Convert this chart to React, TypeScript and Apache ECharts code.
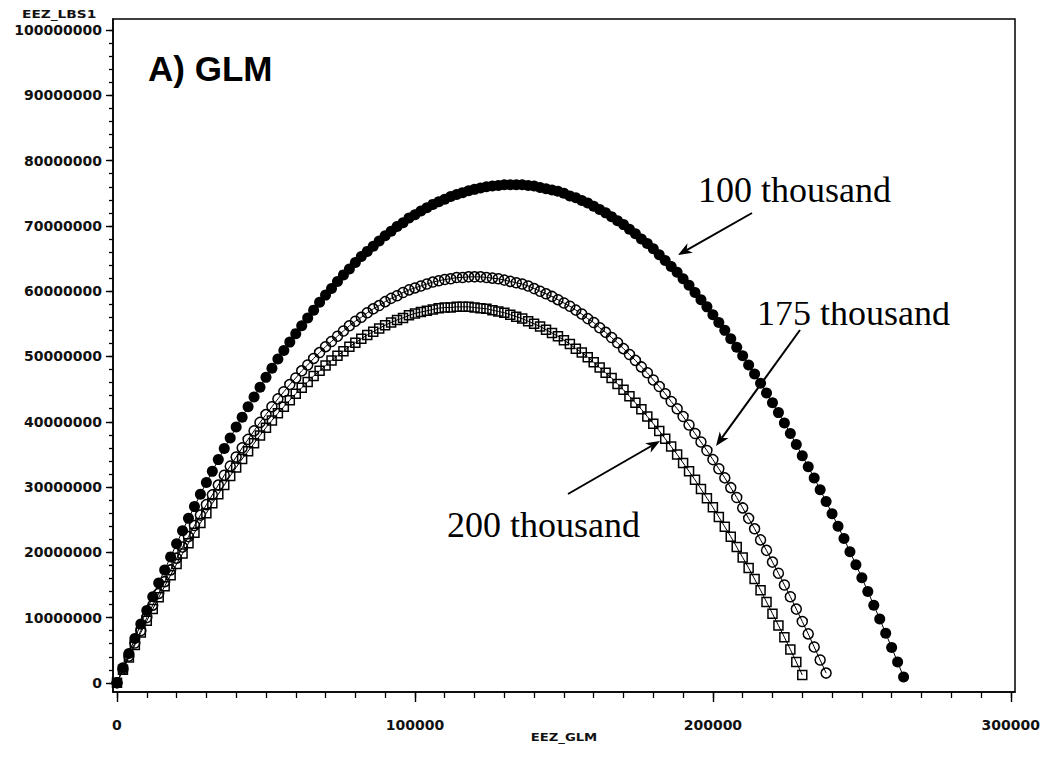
import React, { useEffect, useRef } from "react";
import * as echarts from "echarts";

// Effort (EEZ_GLM), in thousands
const EFFORT_THOUSANDS = [
  0, 2, 4, 6, 8, 10, 12, 14, 16, 18, 20, 22, 24, 26, 28, 30, 32, 34, 36, 38,
  40, 42, 44, 46, 48, 50, 52, 54, 56, 58, 60, 62, 64, 66, 68, 70, 72, 74, 76, 78,
  80, 82, 84, 86, 88, 90, 92, 94, 96, 98, 100, 102, 104, 106, 108, 110, 112, 114, 116, 118,
  120, 122, 124, 126, 128, 130, 132, 134, 136, 138, 140, 142, 144, 146, 148, 150, 152, 154, 156, 158,
  160, 162, 164, 166, 168, 170, 172, 174, 176, 178, 180, 182, 184, 186, 188, 190, 192, 194, 196, 198,
  200, 202, 204, 206, 208, 210, 212, 214, 216, 218, 220, 222, 224, 226, 228, 230, 232, 234, 236, 238,
  240, 242, 244, 246, 248, 250, 252, 254, 256, 258, 260, 262, 264,
];

// EEZ_LBS1, in millions of lbs
const LBS_100K = [
  0.0, 2.3, 4.5, 6.8, 9.0, 11.1, 13.2, 15.3, 17.3, 19.3, 21.3, 23.3, 25.2, 27.0, 28.9, 30.7, 32.4, 34.2, 35.9, 37.5,
  39.2, 40.7, 42.3, 43.8, 45.3, 46.8, 48.2, 49.6, 50.9, 52.2, 53.5, 54.7, 55.9, 57.1, 58.3, 59.4, 60.4, 61.5, 62.5, 63.4,
  64.4, 65.3, 66.1, 66.9, 67.7, 68.5, 69.2, 69.9, 70.5, 71.2, 71.7, 72.3, 72.8, 73.3, 73.7, 74.1, 74.5, 74.8, 75.1, 75.4,
  75.6, 75.8, 76.0, 76.1, 76.2, 76.3, 76.3, 76.3, 76.3, 76.2, 76.1, 75.9, 75.7, 75.5, 75.3, 75.0, 74.6, 74.3, 73.9, 73.5,
  73.0, 72.5, 72.0, 71.4, 70.8, 70.2, 69.5, 68.8, 68.0, 67.3, 66.5, 65.6, 64.7, 63.8, 62.9, 61.9, 60.9, 59.8, 58.7, 57.6,
  56.4, 55.2, 54.0, 52.7, 51.4, 50.1, 48.7, 47.3, 45.9, 44.4, 42.9, 41.4, 39.8, 38.2, 36.5, 34.8, 33.1, 31.4, 29.6, 27.8,
  25.9, 24.0, 22.1, 20.1, 18.1, 16.1, 14.0, 11.9, 9.8, 7.6, 5.4, 3.2, 0.9,
];

const LBS_175K = [
  0.0, 2.1, 4.1, 6.1, 8.0, 10.0, 11.9, 13.7, 15.5, 17.3, 19.1, 20.8, 22.4, 24.1, 25.7, 27.3, 28.8, 30.3, 31.8, 33.2,
  34.6, 36.0, 37.3, 38.6, 39.9, 41.1, 42.3, 43.5, 44.6, 45.7, 46.7, 47.8, 48.7, 49.7, 50.6, 51.5, 52.3, 53.1, 53.9, 54.7,
  55.4, 56.0, 56.7, 57.3, 57.8, 58.4, 58.9, 59.3, 59.8, 60.2, 60.5, 60.8, 61.1, 61.4, 61.6, 61.8, 61.9, 62.1, 62.1, 62.2,
  62.2, 62.2, 62.1, 62.0, 61.9, 61.7, 61.5, 61.3, 61.1, 60.8, 60.4, 60.0, 59.6, 59.2, 58.7, 58.2, 57.7, 57.1, 56.5, 55.8,
  55.2, 54.4, 53.7, 52.9, 52.1, 51.2, 50.3, 49.4, 48.4, 47.5, 46.4, 45.4, 44.3, 43.1, 42.0, 40.8, 39.5, 38.2, 36.9, 35.6,
  34.2, 32.8, 31.4, 29.9, 28.4, 26.8, 25.2, 23.6, 21.9, 20.3, 18.5, 16.8, 15.0, 13.2, 11.3, 9.4, 7.5, 5.5, 3.5, 1.5,
];

const LBS_200K = [
  0.0, 2.0, 3.9, 5.8, 7.7, 9.5, 11.3, 13.1, 14.8, 16.5, 18.2, 19.8, 21.4, 23.0, 24.5, 26.0, 27.5, 28.9, 30.3, 31.7,
  33.0, 34.3, 35.5, 36.7, 37.9, 39.1, 40.2, 41.3, 42.3, 43.3, 44.3, 45.2, 46.1, 47.0, 47.8, 48.6, 49.4, 50.1, 50.8, 51.5,
  52.1, 52.7, 53.3, 53.8, 54.3, 54.8, 55.2, 55.6, 55.9, 56.3, 56.6, 56.8, 57.0, 57.2, 57.4, 57.5, 57.5, 57.6, 57.6, 57.6,
  57.5, 57.4, 57.3, 57.1, 56.9, 56.7, 56.4, 56.1, 55.8, 55.4, 55.0, 54.6, 54.1, 53.6, 53.1, 52.5, 51.9, 51.2, 50.6, 49.9,
  49.1, 48.3, 47.5, 46.7, 45.8, 44.9, 43.9, 42.9, 41.9, 40.8, 39.7, 38.6, 37.4, 36.2, 35.0, 33.7, 32.4, 31.1, 29.7, 28.3,
  26.9, 25.4, 23.9, 22.4, 20.8, 19.2, 17.6, 15.9, 14.2, 12.4, 10.6, 8.8, 7.0, 5.1, 3.2, 1.2,
];

const SERIES_NAMES = ["100 thousand", "175 thousand", "200 thousand"];
const X_TICK_LABELS = [0, 100000, 200000, 300000];
const Y_TICK_LABELS = [
  0, 10000000, 20000000, 30000000, 40000000, 50000000, 60000000, 70000000, 80000000, 90000000, 100000000,
];
const X_NAME = "EEZ_GLM";
const Y_NAME = "EEZ_LBS1";
const PANEL_TITLE = "A) GLM";

const X_MINOR = Array.from({ length: 31 }, (_, i) => i * 10000);
const Y_MINOR = Array.from({ length: 51 }, (_, i) => i * 2000000);

function toPairs(ys: number[]) {
  return ys.map((y, i) => [EFFORT_THOUSANDS[i] * 1000, y * 1000000]);
}

function arrow(x1: number, y1: number, x2: number, y2: number) {
  const dx = x2 - x1;
  const dy = y2 - y1;
  const len = Math.sqrt(dx * dx + dy * dy);
  const ux = dx / len;
  const uy = dy / len;
  const nx = -uy;
  const ny = ux;
  const headLen = 14;
  const notch = 10;
  const half = 5.5;
  const bx = x2 - ux * headLen;
  const by = y2 - uy * headLen;
  return [
    {
      type: "line",
      shape: { x1, y1, x2: x2 - ux * notch, y2: y2 - uy * notch },
      style: { stroke: "#000", lineWidth: 2 },
    },
    {
      type: "polygon",
      shape: {
        points: [
          [x2, y2],
          [bx + nx * half, by + ny * half],
          [x2 - ux * notch, y2 - uy * notch],
          [bx - nx * half, by - ny * half],
        ],
      },
      style: { fill: "#000" },
    },
  ];
}

const SERIF = '"Liberation Serif", "Times New Roman", serif';
const TICK_FONT = '"DejaVu Sans", Verdana, sans-serif';

export default function App() {
  const ref = useRef<HTMLDivElement>(null);

  useEffect(() => {
    if (!ref.current) return;
    const chart = echarts.init(ref.current, null, { renderer: "svg" });

    const xMin = -1340;
    const xMax = 301400;
    const yMin = -1400000;
    const yMax = 101700000;

    const option: any = {
      animation: false,
      backgroundColor: "#fff",
      grid: {
        left: 113,
        right: 27,
        top: 19,
        bottom: 78,
        show: true,
        borderColor: "#000",
        borderWidth: 1.5,
        backgroundColor: "transparent",
        containLabel: false,
        outerBoundsMode: "none",
      },
      xAxis: [
        {
          type: "value",
          min: xMin,
          max: xMax,
          position: "bottom",
          axisLine: { show: true, onZero: false, lineStyle: { color: "#000", width: 1.5 } },
          axisTick: {
            show: true,
            inside: false,
            length: 10,
            customValues: X_TICK_LABELS,
            lineStyle: { color: "#000", width: 1.4 },
          },
          axisLabel: {
            show: true,
            customValues: X_TICK_LABELS,
            formatter: (v: number) => String(v),
            margin: 26,
            fontFamily: TICK_FONT,
            fontWeight: "bold",
            fontSize: 14,
            color: "#111",
          },
          splitLine: { show: false },
        },
        {
          type: "value",
          min: xMin,
          max: xMax,
          position: "bottom",
          axisLine: { show: false, onZero: false },
          axisTick: {
            show: true,
            inside: false,
            length: 6,
            customValues: X_MINOR,
            lineStyle: { color: "#000", width: 1.3 },
          },
          axisLabel: { show: false },
          splitLine: { show: false },
        },
      ],
      yAxis: [
        {
          type: "value",
          min: yMin,
          max: yMax,
          position: "left",
          axisLine: { show: true, onZero: false, lineStyle: { color: "#000", width: 1.5 } },
          axisTick: {
            show: true,
            inside: false,
            length: 7,
            customValues: Y_TICK_LABELS,
            lineStyle: { color: "#000", width: 1.4 },
          },
          axisLabel: {
            show: true,
            customValues: Y_TICK_LABELS,
            formatter: (v: number) => String(v),
            margin: 11,
            fontFamily: TICK_FONT,
            fontWeight: "bold",
            fontSize: 14,
            color: "#111",
            verticalAlign: "middle",
            padding: [8, 0, 0, 0],
          },
          splitLine: { show: false },
        },
        {
          type: "value",
          min: yMin,
          max: yMax,
          position: "left",
          axisLine: { show: false, onZero: false },
          axisTick: {
            show: true,
            inside: false,
            length: 4,
            customValues: Y_MINOR,
            lineStyle: { color: "#000", width: 1.3 },
          },
          axisLabel: { show: false },
          splitLine: { show: false },
        },
      ],
      series: [
        {
          name: SERIES_NAMES[2],
          type: "line",
          xAxisIndex: 0,
          yAxisIndex: 0,
          data: toPairs(LBS_200K),
          symbol: "rect",
          symbolSize: 9,
          showAllSymbol: true,
          silent: true,
          lineStyle: { color: "#000", width: 1 },
          itemStyle: { color: "rgba(255,255,255,0)", borderColor: "#000", borderWidth: 1.5 },
          z: 3,
        },
        {
          name: SERIES_NAMES[1],
          type: "line",
          xAxisIndex: 0,
          yAxisIndex: 0,
          data: toPairs(LBS_175K),
          symbol: "circle",
          symbolSize: 10,
          showAllSymbol: true,
          silent: true,
          lineStyle: { color: "#000", width: 1 },
          itemStyle: { color: "rgba(255,255,255,0)", borderColor: "#000", borderWidth: 1.5 },
          z: 4,
        },
        {
          name: SERIES_NAMES[0],
          type: "line",
          xAxisIndex: 0,
          yAxisIndex: 0,
          data: toPairs(LBS_100K),
          symbol: "circle",
          symbolSize: 11,
          showAllSymbol: true,
          silent: true,
          lineStyle: { color: "#000", width: 1 },
          itemStyle: { color: "#000" },
          z: 5,
        },
      ],
      graphic: [
        {
          type: "text",
          x: 148,
          y: 68,
          z: 100,
          style: {
            text: PANEL_TITLE,
            fontFamily: '"Liberation Sans", Arial, sans-serif',
            fontWeight: "bold",
            fontSize: 35,
            fill: "#000",
            verticalAlign: "middle",
          },
        },
        {
          type: "text",
          x: 22,
          y: 14,
          z: 100,
          scaleX: 1.25,
          style: {
            text: Y_NAME,
            fontFamily: TICK_FONT,
            fontWeight: "bold",
            fontSize: 11,
            fill: "#111",
            verticalAlign: "middle",
          },
        },
        {
          type: "text",
          x: 564,
          y: 737,
          z: 100,
          scaleX: 1.2,
          style: {
            text: X_NAME,
            fontFamily: TICK_FONT,
            fontWeight: "bold",
            fontSize: 11,
            fill: "#111",
            align: "center",
            verticalAlign: "middle",
          },
        },
        {
          type: "text",
          x: 698,
          y: 190,
          z: 100,
          style: { text: SERIES_NAMES[0], fontFamily: SERIF, fontSize: 36, fill: "#000", verticalAlign: "middle" },
        },
        {
          type: "text",
          x: 757,
          y: 313,
          z: 100,
          style: { text: SERIES_NAMES[1], fontFamily: SERIF, fontSize: 36, fill: "#000", verticalAlign: "middle" },
        },
        {
          type: "rect",
          z: 101,
          shape: { x: 752, y: 292, width: 218, height: 10 },
          style: { fill: "#fff" },
        },
        {
          type: "text",
          x: 447,
          y: 525,
          z: 100,
          style: { text: SERIES_NAMES[2], fontFamily: SERIF, fontSize: 36, fill: "#000", verticalAlign: "middle" },
        },
        ...arrow(752, 213, 678, 255).map((e) => ({ ...e, z: 100 })),
        ...arrow(800, 330, 716, 446).map((e) => ({ ...e, z: 100 })),
        ...arrow(568, 494, 660, 441).map((e) => ({ ...e, z: 100 })),
      ],
    };

    chart.setOption(option);
    return () => {
      chart.dispose();
    };
  }, []);

  return (
    <div
      ref={ref}
      style={{ position: "absolute", left: 0, top: 0, width: 1042, height: 770, background: "#fff" }}
    />
  );
}
